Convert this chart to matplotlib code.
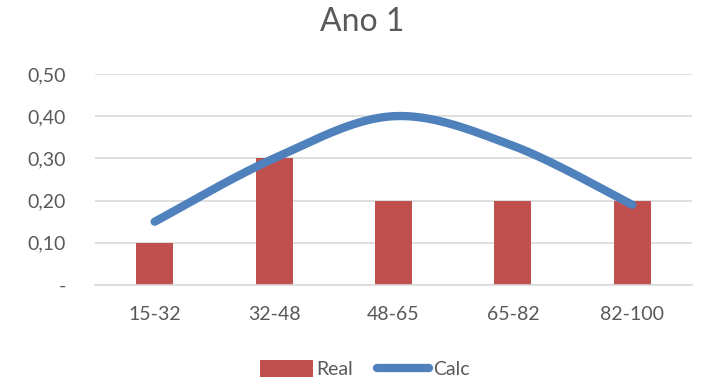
import numpy as np
import matplotlib
matplotlib.use("Agg")
import matplotlib.pyplot as plt
from matplotlib.lines import Line2D
from matplotlib.patches import Patch

categories = ["15-32", "32-48", "48-65", "65-82", "82-100"]
real = [0.10, 0.30, 0.20, 0.20, 0.20]
calc = [0.15, 0.30, 0.40, 0.33, 0.19]
yticks = [0.0, 0.1, 0.2, 0.3, 0.4, 0.5]
ytick_labels = ["-", "0,10", "0,20", "0,30", "0,40", "0,50"]

plt.rcParams['font.family'] = ['Lato', 'DejaVu Sans']
TXT = "#595959"
RED = "#C0504D"
BLUE = "#4F81BD"
GRID = "#D9D9D9"

fig = plt.figure(figsize=(7.02, 3.91), dpi=100)
ax = fig.add_axes([95/702, 1-285/391, 597/702, 211/391])

x = np.arange(len(categories))
ax.bar(x, real, width=0.31, color=RED, zorder=2)

# Excel-style smoothed line (Catmull-Rom Bezier through the data points)
def smooth(xs, ys, n=40):
    xs = np.asarray(xs, float); ys = np.asarray(ys, float)
    px = np.concatenate([[xs[0]], xs, [xs[-1]]])
    py = np.concatenate([[ys[0]], ys, [ys[-1]]])
    outx, outy = [], []
    t = np.linspace(0, 1, n)
    for i in range(1, len(px) - 2):
        p0 = np.array([px[i], py[i]]); p3 = np.array([px[i+1], py[i+1]])
        p1 = p0 + (np.array([px[i+1], py[i+1]]) - np.array([px[i-1], py[i-1]])) / 6
        p2 = p3 - (np.array([px[i+2], py[i+2]]) - np.array([px[i], py[i]])) / 6
        b = ((1-t)**3)[:, None]*p0 + (3*(1-t)**2*t)[:, None]*p1 + (3*(1-t)*t**2)[:, None]*p2 + (t**3)[:, None]*p3
        outx.extend(b[:, 0]); outy.extend(b[:, 1])
    return outx, outy

sx, sy = smooth(x, calc)
ax.plot(sx, sy, color=BLUE, lw=6, solid_capstyle='round', solid_joinstyle='round', zorder=3)

ax.set_xlim(-0.5, len(categories) - 0.5)
ax.set_ylim(0, 0.5)
ax.set_yticks(yticks)
ax.set_yticklabels(ytick_labels)
ax.set_xticks(x)
ax.set_xticklabels(categories)
ax.tick_params(axis='both', length=0, labelsize=14, colors=TXT)
ax.tick_params(axis='x', pad=15)
ax.tick_params(axis='y', pad=21)
ax.grid(axis='y', color=GRID, lw=1.2, zorder=0)
ax.set_axisbelow(True)
for s in ['top', 'right', 'left']:
    ax.spines[s].set_visible(False)
ax.spines['bottom'].set_color(GRID)
ax.spines['bottom'].set_linewidth(1.2)

fig.text(362/702, 1-22/391, "Ano 1", ha='center', va='center', fontsize=23, color=TXT)

handles = [Patch(facecolor=RED, edgecolor='none', label="Real"),
           Line2D([0], [0], color=BLUE, lw=6, solid_capstyle='round', label="Calc")]
fig.legend(handles=handles, loc='center', bbox_to_anchor=(365/702, 1-369/391), ncol=2,
           frameon=False, fontsize=14, labelcolor=TXT, handlelength=2.7, handleheight=1.0,
           handletextpad=0.2, columnspacing=1.2)

fig.savefig("out.png", dpi=100)
